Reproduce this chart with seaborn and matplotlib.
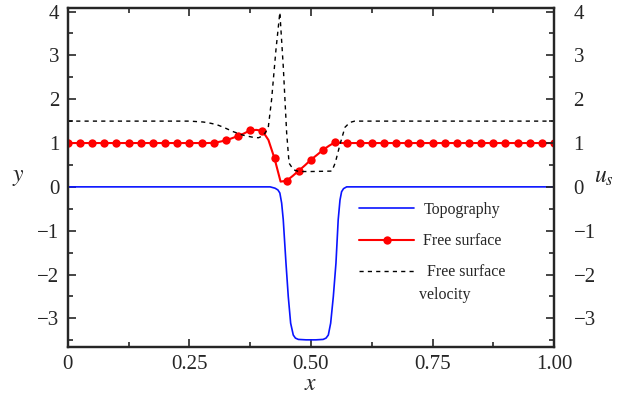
import numpy as np
import pandas as pd
import seaborn as sns
import matplotlib.pyplot as plt
from matplotlib.ticker import MultipleLocator, FixedLocator

# topography (bottom profile)
topo_x = [0.0, 0.40, 0.416, 0.426, 0.432, 0.436, 0.4397, 0.443, 0.4486, 0.4533, 0.4582, 0.4636,
          0.468, 0.474, 0.49, 0.51, 0.525, 0.531, 0.5357, 0.5405, 0.546, 0.5514, 0.556, 0.5597,
          0.563, 0.567, 0.5734, 0.59, 1.0]
topo_y = [0.0, 0.0, 0.0, -0.03, -0.07, -0.14, -0.37, -0.75, -1.74, -2.50, -3.11, -3.38,
          -3.45, -3.48, -3.49, -3.49, -3.48, -3.45, -3.38, -3.11, -2.50, -1.74, -0.75, -0.30,
          -0.11, -0.04, 0.0, 0.0, 0.0]

# free surface, sampled every 0.0125 (markers every 0.025)
fs_x = np.round(np.arange(0, 81) * 0.0125, 4)
fs_y = ([1.0] * 24 +
        [1.005, 1.03, 1.06, 1.11, 1.16, 1.22, 1.29, 1.30, 1.28, 1.07, 0.65, 0.12,
         0.14, 0.25, 0.37, 0.49, 0.62, 0.73, 0.845, 0.94, 1.02, 1.0] +
        [1.0] * 35)

# free surface velocity
vel_x = [0.0, 0.25, 0.278, 0.29, 0.306, 0.32, 0.34, 0.36, 0.381, 0.392, 0.40, 0.405, 0.412, 0.419,
         0.428, 0.436, 0.443, 0.45, 0.455, 0.464, 0.475, 0.50, 0.543, 0.55, 0.56, 0.57, 0.58, 0.59, 1.0]
vel_y = [1.5, 1.5, 1.48, 1.46, 1.42, 1.36, 1.26, 1.18, 1.13, 1.12, 1.16, 1.22, 1.34, 1.99,
         3.13, 3.98, 2.75, 1.23, 0.54, 0.39, 0.35, 0.35, 0.36, 0.55, 0.98, 1.36, 1.47, 1.5, 1.5]

xticks = [0, 0.25, 0.5, 0.75, 1.0]
xticklabels = ["0", "0.25", "0.50", "0.75", "1.00"]
yticks = [-3, -2, -1, 0, 1, 2, 3, 4]
yticklabels = ["\u22123", "\u22122", "\u22121", "0", "1", "2", "3", "4"]

sns.set_style("ticks")
plt.rcParams['font.family'] = ['Liberation Serif', 'DejaVu Serif']
plt.rcParams['mathtext.fontset'] = 'stix'

fig = plt.figure(figsize=(6.17, 4.01), dpi=100)
ax = fig.add_axes([0.110, 0.135, 0.788, 0.845])

sns.lineplot(x=topo_x, y=topo_y, color="#0a14ff", lw=1.2, ax=ax, label="Topography")
sns.lineplot(x=fs_x, y=fs_y, color="#ff0000", lw=1.5, marker="o", markersize=6,
             markeredgewidth=0, markevery=list(range(0, 81, 2)), ax=ax, label="Free surface")
sns.lineplot(x=vel_x, y=vel_y, color="black", lw=1.0, ax=ax, label=" Free surface",
             dashes=False)
ax.lines[-1].set_dashes([3, 3])

ax.set_xlim(0, 1.0)
ax.set_ylim(-3.65, 4.08)
ax.xaxis.set_major_locator(FixedLocator(xticks))
ax.set_xticklabels(xticklabels)
ax.xaxis.set_minor_locator(MultipleLocator(0.125))
ax.set_yticks(yticks)
ax.set_yticklabels(yticklabels)
ax.yaxis.set_minor_locator(MultipleLocator(0.5))

ax.tick_params(which="both", direction="in", top=True, bottom=True, left=True, right=False,
               labelsize=15, width=1.2, pad=6)
ax.tick_params(which="major", length=6)
ax.tick_params(which="minor", length=3.5)
for s in ax.spines.values():
    s.set_linewidth(1.6)

ax.set_xlabel("$x$", fontsize=17, labelpad=0)
ax.set_ylabel("$y$", fontsize=17, rotation=0, labelpad=14, va="center")

ax2 = ax.twinx()
ax2.set_ylim(ax.get_ylim())
ax2.set_yticks(yticks)
ax2.set_yticklabels(yticklabels)
ax2.yaxis.set_minor_locator(MultipleLocator(0.5))
ax2.tick_params(which="both", direction="in", labelsize=15, width=1.2, pad=14)
ax2.tick_params(which="major", length=6)
ax2.tick_params(which="minor", length=3.5)
for s in ax2.spines.values():
    s.set_linewidth(1.6)
ax2.set_ylabel("$u_s$", fontsize=17, rotation=0, labelpad=6, va="center")

leg = ax.legend(loc="upper left", bbox_to_anchor=(0.57, 0.47), frameon=False, fontsize=11.5,
                handlelength=3.4, handletextpad=0.6, labelspacing=0.95)
ax.text(0.722, 0.154, "velocity", transform=ax.transAxes, fontsize=11.5, va="center", ha="left")

fig.savefig("out.png", dpi=100)
